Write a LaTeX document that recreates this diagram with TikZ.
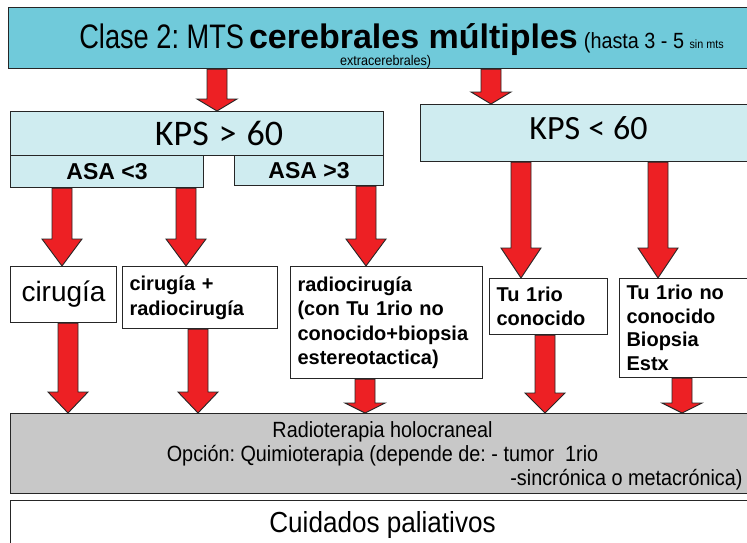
\documentclass[tikz,border=0pt]{standalone}
\usepackage{fontspec}
\setmainfont{Liberation Sans}
\newfontfamily\narrowfont[FakeStretch=0.9]{Liberation Sans}
\newfontfamily\condfont[FakeStretch=0.8]{Liberation Sans}
\newfontfamily\kpsfont{Carlito}
\usetikzlibrary{calc}
\frenchspacing

\definecolor{bannerteal}{RGB}{112,202,218}
\definecolor{kpscyan}{RGB}{207,236,240}
\definecolor{arrowred}{RGB}{237,32,36}
\definecolor{rtgray}{RGB}{200,200,200}

% block arrow: #1 head length, #2 start point, #3 point that gives the tip height
\newcommand{\fatarrow}[3][22]{%
  \draw[fatarrow] let \p1=(#2), \p2=(#3) in
    (\x1-10pt,\y1) -- (\x1-10pt,\y2+#1pt) -- (\x1-20pt,\y2+#1pt) -- (\x1,\y2)
    -- (\x1+20pt,\y2+#1pt) -- (\x1+10pt,\y2+#1pt) -- (\x1+10pt,\y1) -- cycle;}

\begin{document}
\begin{tikzpicture}[x=1pt, y=-1pt,
    box/.style={draw=black!85, line width=1.1pt, anchor=north west, inner sep=0pt},
    fatarrow/.style={draw=black!85, line width=0.9pt, fill=arrowred, line join=miter}]

    \clip (0,0) rectangle (747,543);

    % Title banner
    \node[box, fill=bannerteal, minimum width=786, minimum height=60, align=center] (banner) at (8,7)
        {\rule{0pt}{41pt}{\condfont\fontsize{34}{36}\selectfont Clase 2: MTS}\hspace{5pt}%
         {\bfseries\fontsize{34}{36}\selectfont cerebrales múltiples}\hspace{6pt}%
         {\narrowfont\fontsize{22}{24}\selectfont (hasta 3 - 5 {\fontsize{12}{14}\selectfont sin mts}}\\[-1pt]
         {\narrowfont\fontsize{14}{16}\selectfont extracerebrales)}\hspace*{32pt}};

    % KPS boxes
    \node[box, fill=kpscyan, minimum width=373, minimum height=44] (kpsA) at (10,111)
        {\kpsfont\fontsize{36}{38}\selectfont\hspace*{44pt}KPS\hspace{10pt}>\hspace{10pt}60};
    \node[box, fill=kpscyan, minimum width=336, minimum height=57] (kpsB) at (420,104)
        {\kpsfont\fontsize{34}{36}\selectfont KPS\hspace{8pt}<\hspace{8pt}60\rule[-10pt]{0pt}{1pt}};

    % ASA boxes
    \node[box, fill=kpscyan, minimum width=193, minimum height=32] (asaL) at (10,155)
        {\bfseries\fontsize{23}{25}\selectfont ASA <3};
    \node[box, fill=kpscyan, minimum width=149, minimum height=30] (asaR) at (234,155)
        {\bfseries\fontsize{23}{25}\selectfont ASA >3};

    % Treatment boxes
    \node[box, minimum width=106, minimum height=56] (cir) at (10,266)
        {\fontsize{28}{30}\selectfont cirugía};
    \node[box, minimum height=62, text width=141, inner xsep=7pt, align=left,
          font=\bfseries\fontsize{20}{24.5}\selectfont] (cirrad) at (122,266)
        {cirugía +\\radiocirugía};
    \node[box, minimum height=112, text width=178, inner xsep=7pt, align=left,
          font=\bfseries\fontsize{20}{24.5}\selectfont] (radio) at (290,266)
        {radiocirugía\\(con Tu 1rio no\\conocido+biopsia\\estereotactica)};
    \node[box, minimum height=56, text width=104, inner xsep=7pt, align=left,
          font=\bfseries\fontsize{20}{24}\selectfont] (tuc) at (489,278)
        {Tu 1rio\\conocido};
    \node[box, minimum height=99, text width=126, inner xsep=7pt, align=left,
          font=\bfseries\fontsize{20}{23.5}\selectfont] (tunc) at (619,278)
        {Tu 1rio no\\conocido\\Biopsia\\Estx};

    % Radiotherapy and palliative care
    \node[box, fill=rtgray, minimum height=80, text width=720, inner xsep=12pt, align=flush center,
          font=\narrowfont\fontsize{22}{24}\selectfont] (rth) at (10,413)
        {\rule{0pt}{20pt}Radioterapia holocraneal\\
         Opción: Quimioterapia (depende de: - tumor \ 1rio\\
         \hspace*{\fill}-sincrónica o metacrónica)};
    \node[box, minimum width=744, minimum height=48,
          font=\narrowfont\fontsize{29}{31}\selectfont] (care) at (10,500)
        {Cuidados paliativos};

    % Arrows from the banner
    \fatarrow[12]{banner.south -| 217,0}{kpsA.north}
    \fatarrow[12]{banner.south -| 491,0}{kpsB.north}

    % Arrows from ASA and KPS < 60
    \fatarrow[27]{asaL.south -| 62,0}{cir.north}
    \fatarrow[27]{asaL.south -| 186,0}{cirrad.north}
    \fatarrow[27]{asaR.south -| 366,0}{radio.north}
    \fatarrow[30]{kpsB.south -| 521,0}{tuc.north}
    \fatarrow[30]{kpsB.south -| 658,0}{tunc.north}

    % Arrows down to radiotherapy
    \fatarrow[21]{cir.south -| 68,0}{rth.north}
    \fatarrow[21]{cirrad.south -| 198,0}{rth.north}
    \fatarrow[10]{radio.south -| 365,0}{rth.north}
    \fatarrow[20]{tuc.south -| 545,0}{rth.north}
    \fatarrow[10]{tunc.south -| 682,0}{rth.north}

\end{tikzpicture}
\end{document}
